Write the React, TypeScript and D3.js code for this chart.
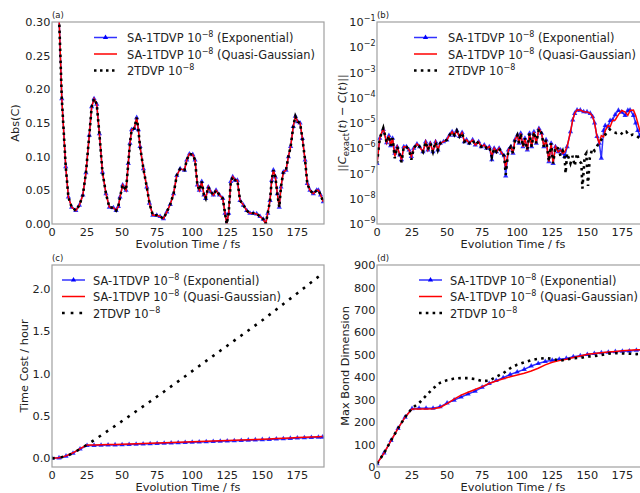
import React, { useEffect, useRef } from 'react';
import * as d3 from 'd3';

// (a) Abs(C) vs time -- the three methods overlap on this scale
const tA = [0, 3, 5, 7, 9.8, 11.7, 14, 17, 19.5, 22, 24.2, 26.6, 28.3, 30, 31.9, 33.8, 36, 38.5, 40.9, 43.8,
  45.7, 47.3, 48.5, 50.4, 52.8, 54.4, 55.6, 56.8, 58.7, 60.4, 61.6, 62.8, 65.2, 67.6, 69.5, 71.9, 74.7, 77.1,
  79.5, 81.9, 84.3, 86.7, 89, 91.4, 94.5, 96.1, 98, 100.4, 102, 103.7, 105.1, 106.8, 108.4, 109.6, 111.5,
  113.2, 115.1, 117, 119.4, 121.8, 123.4, 124.6, 126, 127.5, 128.9, 130.6, 132.2, 134.1, 136.5, 138.9, 141.2,
  143.6, 146, 148.4, 150.7, 152.4, 153.9, 155.5, 156.7, 157.9, 159.3, 160.7, 162.1, 163.3, 165, 166.9, 168.6,
  170.2, 172.1, 173.6, 175.2, 176.9, 178.6, 180.5, 182.1, 184, 186.4, 188.8, 190, 191.6, 193.5];
const absC = [1.0, 0.6, 0.31, 0.186, 0.085, 0.04, 0.025, 0.02, 0.028, 0.043, 0.076, 0.132, 0.174, 0.186, 0.178,
  0.134, 0.077, 0.045, 0.025, 0.024, 0.02, 0.026, 0.04, 0.058, 0.05, 0.09, 0.12, 0.14, 0.142, 0.158, 0.14, 0.115,
  0.082, 0.055, 0.031, 0.013, 0.013, 0.011, 0.008, 0.018, 0.029, 0.045, 0.072, 0.082, 0.08, 0.095, 0.104, 0.103,
  0.095, 0.058, 0.05, 0.063, 0.043, 0.038, 0.055, 0.048, 0.043, 0.05, 0.043, 0.038, 0.016, 0.0, 0.016, 0.063,
  0.07, 0.065, 0.065, 0.035, 0.028, 0.02, 0.016, 0.016, 0.015, 0.011, 0.007, 0.0, 0.016, 0.035, 0.065, 0.08,
  0.07, 0.045, 0.025, 0.055, 0.077, 0.08, 0.1, 0.115, 0.145, 0.16, 0.152, 0.15, 0.127, 0.095, 0.06, 0.05, 0.045,
  0.05, 0.05, 0.043, 0.033];

// (b) error vs exact
const tB = [0, 2, 4.5, 6.9, 8.5, 9.7, 11.1, 12.7, 14.4, 16.3, 17.5, 19.1, 21, 22.9, 24.5, 26.2, 28.5, 30.4, 32.8,
  34.7, 36.3, 38, 39.9, 41.8, 43.4, 45.1, 47.4, 49.8, 51.7, 53.6, 55.2, 56.9, 58.8, 60.7, 62.3, 63.9, 65.8, 68.2,
  70.1, 72.5, 74.4, 76.5, 78.2, 80.1, 81.9, 83.6, 85.2, 87.1, 89, 90.7, 91.8, 93.7, 95.4, 97, 98.4, 100.1, 101.3,
  102.5, 104.1, 105.5, 107.2, 108.8, 110.3, 111.9, 113.6, 115.5, 117.4, 119, 120.6, 122.6, 124.2, 125.6, 127.3,
  129.2, 130.9, 132.5, 133.9, 135.6, 138, 139.6, 141, 142.7, 145, 147.4, 149.8, 152.1, 153.8, 155.2, 156.9, 158.5,
  160, 161.6, 162.8, 164.7, 166.3, 168, 169.9, 172.2, 174.6, 177, 178.9, 180.5, 182.9, 184.5, 186, 187.5, 189,
  191, 193];
const errQG = [2.5e-7, 2.5e-6, 6.3e-6, 1.66e-6, 3.16e-6, 1.26e-6, 2.5e-6, 4.7e-7, 1.15e-6, 5.4e-7, 3.5e-7, 1.15e-6,
  1.15e-6, 8.5e-7, 4.7e-7, 1e-6, 1.48e-6, 1.15e-6, 7.2e-7, 1.82e-6, 8.5e-7, 1.58e-6, 7.2e-7, 1.82e-6, 8.5e-7,
  1.58e-6, 1.82e-6, 2.14e-6, 3.3e-6, 4.47e-6, 3.3e-6, 5e-6, 2.9e-6, 4.2e-6, 1.82e-6, 2.14e-6, 1.58e-6, 2.14e-6,
  1.35e-6, 1.82e-6, 1.15e-6, 1.35e-6, 1e-6, 1.15e-6, 5e-7, 1e-6, 7.2e-7, 1e-6, 6.3e-7, 5e-7, 1.58e-7, 8.5e-7,
  1.15e-6, 6.3e-7, 2.14e-6, 3.3e-6, 1.58e-6, 3.9e-6, 1.15e-6, 2.5e-6, 8.5e-7, 3.9e-6, 1.15e-6, 4.47e-6, 1.58e-6,
  6e-6, 3.9e-6, 1.15e-6, 2.14e-6, 2.95e-7, 1.58e-6, 2.5e-7, 1.15e-6, 7.2e-7, 8.5e-7, 6.3e-7, 7.2e-7, 1.15e-6,
  4.47e-6, 1.32e-5, 2.4e-5, 3.24e-5, 3.24e-5, 2.8e-5, 2.75e-5, 2.4e-5, 1.78e-5, 1e-5, 2.9e-6, 1.58e-6, 3.16e-6,
  2.8e-6, 5e-6, 7.9e-6, 7.1e-6, 1.26e-5, 1.32e-5, 2.14e-5, 3.16e-5, 2.7e-5, 2e-5, 3.16e-5, 3.24e-5, 2e-5, 1e-5,
  5e-6, 3.16e-6, 5e-6, 7.9e-6];
const errExp = [2.5e-7, 2.5e-6, 5.6e-6, 1.66e-6, 3.16e-6, 1.26e-6, 2.5e-6, 6.3e-7, 1.15e-6, 5.4e-7, 3.5e-7, 1.15e-6,
  1.15e-6, 8.5e-7, 4.7e-7, 1e-6, 1.48e-6, 1.15e-6, 7.2e-7, 1.82e-6, 8.5e-7, 1.58e-6, 7.2e-7, 1.82e-6, 8.5e-7,
  1.58e-6, 1.82e-6, 2.14e-6, 3.3e-6, 4.47e-6, 3.3e-6, 5e-6, 2.9e-6, 4.2e-6, 1.82e-6, 2.14e-6, 1.58e-6, 2.14e-6,
  1.35e-6, 1.82e-6, 1.15e-6, 1.35e-6, 1e-6, 1.15e-6, 3.5e-7, 1e-6, 7.2e-7, 1e-6, 6.3e-7, 5e-7, 7.9e-8, 8.5e-7,
  1.15e-6, 6.3e-7, 2.14e-6, 3.3e-6, 1.58e-6, 3.9e-6, 1.15e-6, 2.5e-6, 8.5e-7, 3.9e-6, 1.15e-6, 4.47e-6, 1.58e-6,
  6e-6, 3.9e-6, 1.15e-6, 2.14e-6, 2.95e-7, 1.58e-6, 2.5e-7, 1.15e-6, 7.2e-7, 8.5e-7, 6.3e-7, 4.7e-7, 1.15e-6,
  4.47e-6, 1.32e-5, 2.4e-5, 3.24e-5, 3.24e-5, 2.8e-5, 2.75e-5, 2.4e-5, 1.78e-5, 1e-5, 2.9e-6, 1.58e-6, 4e-7,
  5e-6, 7.9e-6, 7.1e-6, 1.26e-5, 1.32e-5, 2.14e-5, 3.16e-5, 2.7e-5, 2e-5, 3.16e-5, 3.24e-5, 2e-5, 1e-5,
  5e-6, 3.16e-6, 5e-6, 7.9e-6];
const tB2 = [0, 2, 4.5, 6.9, 8.5, 9.7, 11.1, 12.7, 14.4, 16.3, 17.5, 19.1, 21, 22.9, 24.5, 26.2, 28.5, 30.4, 32.8,
  34.7, 36.3, 38, 39.9, 41.8, 43.4, 45.1, 47.4, 49.8, 51.7, 53.6, 55.2, 56.9, 58.8, 60.7, 62.3, 63.9, 65.8, 68.2,
  70.1, 72.5, 74.4, 76.5, 78.2, 80.1, 81.9, 83.6, 85.2, 87.1, 89, 90.7, 91.8, 93.7, 95.4, 97, 98.4, 100.1, 101.3,
  102.5, 104.1, 105.5, 107.2, 108.8, 110.3, 111.9, 113.6, 115.5, 117.4, 119, 120.6, 122.6, 124.2, 125.6, 127.3,
  129.2, 130.9, 132.5, 133.9, 134.5, 135.6, 138, 139.6, 141, 142.7, 144, 145.8, 146.5, 147.4, 148.1, 149.3, 150.5,
  151.7, 153.6, 155.2, 157.6, 159.3, 161.2, 163.6, 165.9, 168.3, 170.7, 173.1, 175.4, 177.8, 180.2, 182.5, 184.9,
  187.3, 190, 193];
const err2TDVP = [2.5e-7, 2.5e-6, 6.3e-6, 1.66e-6, 3.16e-6, 1.26e-6, 2.5e-6, 4e-7, 1.15e-6, 5.4e-7, 2.8e-7, 1.15e-6,
  1.15e-6, 8.5e-7, 3.5e-7, 1e-6, 1.48e-6, 1.15e-6, 7.2e-7, 1.82e-6, 8.5e-7, 1.58e-6, 7.2e-7, 1.82e-6, 8.5e-7,
  1.58e-6, 1.82e-6, 2.14e-6, 3.3e-6, 4.47e-6, 3.3e-6, 5e-6, 2.9e-6, 4.2e-6, 1.82e-6, 2.14e-6, 1.58e-6, 2.14e-6,
  1.35e-6, 1.82e-6, 1.15e-6, 1.35e-6, 1e-6, 1.15e-6, 4.5e-7, 1e-6, 7.2e-7, 1e-6, 6.3e-7, 5e-7, 8.9e-8, 8.5e-7,
  1.15e-6, 6.3e-7, 2.14e-6, 3.3e-6, 1.58e-6, 3.9e-6, 1.15e-6, 2.5e-6, 8.5e-7, 3.9e-6, 1.15e-6, 4.47e-6, 1.58e-6,
  6e-6, 3.9e-6, 1.15e-6, 2.14e-6, 2.95e-7, 1.58e-6, 2.5e-7, 1.15e-6, 1e-6, 5e-7, 7.9e-7, 4e-7, 1e-7, 6.3e-7,
  2.5e-7, 5e-7, 2e-7, 6.3e-7, 3.2e-7, 2.5e-7, 2.5e-8, 1.26e-7, 5e-7, 6.3e-7, 3.2e-8, 4e-7, 1e-6, 7.9e-7, 1.4e-6,
  2e-6, 2.5e-6, 4e-6, 5.6e-6, 4.47e-6, 4e-6, 4.47e-6, 3.5e-6, 4.47e-6, 3.16e-6, 3.5e-6, 3.16e-6, 2.5e-6, 2.8e-6,
  2.5e-6];

// (c) wall time cost (hours)
const tC = [0, 5, 10, 15, 20, 25, 30, 35, 40, 45, 50, 55, 60, 65, 70, 75, 80, 85, 90, 95, 100, 105, 110, 115, 120,
  125, 130, 135, 140, 145, 150, 155, 160, 165, 170, 175, 180, 185, 190, 193];
const costExp = [0, 0.005, 0.025, 0.06, 0.11, 0.15, 0.152, 0.154, 0.156, 0.158, 0.16, 0.163, 0.166, 0.169, 0.172,
  0.175, 0.178, 0.181, 0.184, 0.187, 0.19, 0.193, 0.196, 0.199, 0.202, 0.205, 0.208, 0.211, 0.214, 0.217, 0.22,
  0.223, 0.227, 0.231, 0.235, 0.239, 0.242, 0.245, 0.248, 0.25];
const costQG = [0, 0.006, 0.028, 0.065, 0.115, 0.157, 0.158, 0.16, 0.162, 0.164, 0.166, 0.169, 0.172, 0.175, 0.178,
  0.181, 0.184, 0.187, 0.19, 0.193, 0.196, 0.199, 0.202, 0.205, 0.208, 0.211, 0.214, 0.217, 0.22, 0.223, 0.226,
  0.229, 0.233, 0.237, 0.241, 0.245, 0.248, 0.251, 0.254, 0.256];
const cost2TDVP = [0, 0.005, 0.025, 0.06, 0.11, 0.16, 0.215, 0.27, 0.326, 0.382, 0.44, 0.497, 0.555, 0.613, 0.671,
  0.73, 0.789, 0.849, 0.909, 0.969, 1.03, 1.09, 1.15, 1.21, 1.27, 1.33, 1.39, 1.45, 1.51, 1.57, 1.63, 1.694, 1.758,
  1.822, 1.886, 1.95, 2.015, 2.08, 2.145, 2.18];

// (d) max bond dimension
const tD = [0, 5, 10, 15, 20, 25, 30, 35, 40, 45, 50, 55, 60, 65, 70, 75, 80, 85, 90, 95, 100, 105, 110, 115, 120,
  125, 130, 135, 140, 145, 150, 155, 160, 165, 170, 175, 180, 185, 190, 194];
const bondExp = [15, 62, 118, 172, 222, 260, 262, 262, 262, 268, 285, 298, 312, 325, 338, 355, 372, 385, 398, 412,
  423, 435, 450, 461, 470, 476, 480, 484, 491, 496, 501, 506, 509, 511, 514, 516, 517, 520, 522, 523];
const bondQG = [15, 62, 118, 172, 222, 258, 258, 258, 260, 265, 282, 302, 320, 333, 345, 358, 372, 383, 393, 402,
  410, 418, 428, 440, 455, 467, 474, 480, 488, 495, 502, 506, 509, 512, 515, 518, 520, 522, 523, 524];
const bond2TDVP = [15, 62, 118, 172, 222, 262, 285, 318, 350, 375, 387, 394, 396, 396, 392, 383, 385, 402, 418, 440,
  456, 466, 476, 482, 485, 482, 474, 478, 485, 486, 492, 494, 499, 505, 507, 506, 505, 503, 505, 505];

const xTicks = [0, 25, 50, 75, 100, 125, 150, 175];
const FONT = "'DejaVu Sans', sans-serif";
const SPINE = '#a0a0a0';
const INK = '#222';

const drawPanel = (svg, p) => {
  const x = d3.scaleLinear().domain([0, 194]).range([p.left, p.left + p.width]);
  const y = p.y.range([p.top + p.height, p.top]);
  const g = svg.append('g');

  g.append('clipPath').attr('id', `clip-${p.id}`)
    .append('rect').attr('x', p.left).attr('y', p.top).attr('width', p.width).attr('height', p.height);

  const plot = g.append('g').attr('clip-path', `url(#clip-${p.id})`);
  const line = d3.line().x(d => x(d[0])).y(d => y(d[1]));
  const zip = (t, v) => t.map((ti, i) => [ti, v[i]]);

  const exp = zip(p.exp[0], p.exp[1]);
  plot.append('path').attr('d', line(exp)).attr('fill', 'none')
    .attr('stroke', '#0000ff').attr('stroke-width', 1.5).attr('opacity', 0.8);
  plot.selectAll('.mk').data(exp).join('path')
    .attr('transform', d => `translate(${x(d[0])},${y(d[1])})`)
    .attr('d', d3.symbol(d3.symbolTriangle, 12)())
    .attr('fill', '#0000ff').attr('opacity', 0.8);

  plot.append('path').attr('d', line(zip(p.qg[0], p.qg[1]))).attr('fill', 'none')
    .attr('stroke', '#ff0000').attr('stroke-width', 1.5);

  plot.append('path').attr('d', line(zip(p.two[0], p.two[1]))).attr('fill', 'none')
    .attr('stroke', '#000').attr('stroke-width', 2.6).attr('stroke-dasharray', p.dash);

  // frame
  g.append('rect').attr('x', p.left).attr('y', p.top).attr('width', p.width).attr('height', p.height)
    .attr('fill', 'none').attr('stroke', SPINE).attr('stroke-width', 1.2);

  // x ticks + title
  g.selectAll('.xt').data(xTicks).join('text')
    .attr('x', d => x(d)).attr('y', p.top + p.height + 11.5)
    .attr('text-anchor', 'middle').attr('font-size', 11.3).attr('font-family', FONT).attr('fill', INK)
    .text(d => d);
  g.append('text').attr('x', p.left + p.width / 2).attr('y', p.top + p.height + 23.5)
    .attr('text-anchor', 'middle').attr('font-size', 11.3).attr('font-family', FONT).attr('fill', INK)
    .text('Evolution Time / fs');

  // y ticks
  p.yTicks.forEach(v => {
    const t = g.append('text').attr('x', p.left - 1.5).attr('y', y(v)).attr('dy', '0.36em')
      .attr('text-anchor', 'end').attr('font-size', 11.3).attr('font-family', FONT).attr('fill', INK);
    if (p.log) {
      t.append('tspan').text('10');
      t.append('tspan').attr('dy', -5).attr('font-size', 8).text(`\u2212${Math.round(-Math.log10(v))}`);
    } else {
      t.text(p.fmt(v));
    }
  });

  // y title
  const yl = g.append('text').attr('transform', `translate(${p.yLabelX},${p.top + p.height / 2}) rotate(-90)`)
    .attr('text-anchor', 'middle').attr('dy', '0.35em').attr('font-size', 11.3).attr('font-family', FONT)
    .attr('fill', INK);
  p.yLabel(yl);

  g.append('text').attr('x', p.left).attr('y', p.top - 4).attr('font-size', 8.5).attr('font-family', FONT)
    .attr('fill', INK).text(p.tag);

  // legend, no frame
  const rows = [
    { kind: 'exp', name: '(Exponential)' },
    { kind: 'qg', name: '(Quasi-Gaussian)' },
    { kind: 'two', name: '' },
  ];
  rows.forEach((r, i) => {
    const ry = p.legY + i * 16.5;
    const lx0 = p.legX, lx1 = p.legX + 23;
    if (r.kind === 'exp') {
      g.append('line').attr('x1', lx0).attr('x2', lx1).attr('y1', ry).attr('y2', ry)
        .attr('stroke', '#0000ff').attr('stroke-width', 1.5).attr('opacity', 0.8);
      g.append('path').attr('transform', `translate(${(lx0 + lx1) / 2},${ry})`)
        .attr('d', d3.symbol(d3.symbolTriangle, 12)()).attr('fill', '#0000ff');
    } else if (r.kind === 'qg') {
      g.append('line').attr('x1', lx0).attr('x2', lx1).attr('y1', ry).attr('y2', ry)
        .attr('stroke', '#ff0000').attr('stroke-width', 1.5);
    } else {
      g.append('line').attr('x1', lx0).attr('x2', lx1).attr('y1', ry).attr('y2', ry)
        .attr('stroke', '#000').attr('stroke-width', 2.6).attr('stroke-dasharray', p.dash);
    }
    const tx = g.append('text').attr('x', p.legTextX).attr('y', ry + 4.5)
      .attr('font-size', 11.4).attr('font-family', FONT).attr('fill', INK);
    tx.append('tspan').text(r.kind === 'two' ? '2TDVP 10' : 'SA-1TDVP 10');
    tx.append('tspan').attr('dy', -5).attr('font-size', 8).text('\u22128');
    tx.append('tspan').attr('dy', 5).text(r.name ? ` ${r.name}` : '');
  });
};

const App = () => {
  const ref = useRef(null);

  useEffect(() => {
    const svg = d3.select(ref.current);
    svg.selectAll('*').remove();

    drawPanel(svg, {
      id: 'a', tag: '(a)', left: 52, top: 22, width: 272, height: 202,
      y: d3.scaleLinear().domain([0, 0.3]), yTicks: [0, 0.05, 0.1, 0.15, 0.2, 0.25, 0.3],
      fmt: d3.format('.2f'), yLabelX: 15,
      yLabel: t => t.text('Abs(C)'),
      exp: [tA, absC], qg: [tA, absC], two: [tA, absC], dash: '2.5,3.5',
      legX: 94, legY: 37.5, legTextX: 127,
    });

    drawPanel(svg, {
      id: 'b', tag: '(b)', left: 377, top: 22, width: 272, height: 202,
      y: d3.scaleLog().domain([1e-9, 1e-1]), log: true,
      yTicks: [1e-9, 1e-8, 1e-7, 1e-6, 1e-5, 1e-4, 1e-3, 1e-2, 1e-1],
      yLabelX: 342,
      yLabel: t => {
        t.append('tspan').text('||');
        t.append('tspan').attr('font-style', 'italic').text('C');
        t.append('tspan').attr('dy', 3).attr('font-size', 8.5).text('exact');
        t.append('tspan').attr('dy', -3).text('(');
        t.append('tspan').attr('font-style', 'italic').text('t');
        t.append('tspan').text(') \u2212 ');
        t.append('tspan').attr('font-style', 'italic').text('C');
        t.append('tspan').text('(');
        t.append('tspan').attr('font-style', 'italic').text('t');
        t.append('tspan').text(')||');
      },
      exp: [tB, errExp], qg: [tB, errQG], two: [tB2, err2TDVP], dash: '2.6,4.2',
      legX: 414, legY: 37.5, legTextX: 448,
    });

    drawPanel(svg, {
      id: 'c', tag: '(c)', left: 52, top: 265, width: 272, height: 202,
      y: d3.scaleLinear().domain([-0.103, 2.283]), yTicks: [0, 0.5, 1, 1.5, 2],
      fmt: d3.format('.1f'), yLabelX: 24,
      yLabel: t => t.text('Time Cost / hour'),
      exp: [tC, costExp], qg: [tC, costQG], two: [tC, cost2TDVP], dash: '2.7,6',
      legX: 62, legY: 280, legTextX: 93,
    });

    drawPanel(svg, {
      id: 'd', tag: '(d)', left: 377, top: 265, width: 272, height: 202,
      y: d3.scaleLinear().domain([0, 900]), yTicks: [0, 100, 200, 300, 400, 500, 600, 700, 800, 900],
      fmt: d3.format('d'), yLabelX: 345,
      yLabel: t => t.text('Max Bond Dimension'),
      exp: [tD, bondExp], qg: [tD, bondQG], two: [tD, bond2TDVP], dash: '2.6,4.2',
      legX: 419, legY: 280, legTextX: 450,
    });
  }, []);

  return (
    <svg ref={ref} width={640} height={493}
      style={{ position: 'absolute', left: 0, top: 0, background: '#fff' }} />
  );
};

export default App;
